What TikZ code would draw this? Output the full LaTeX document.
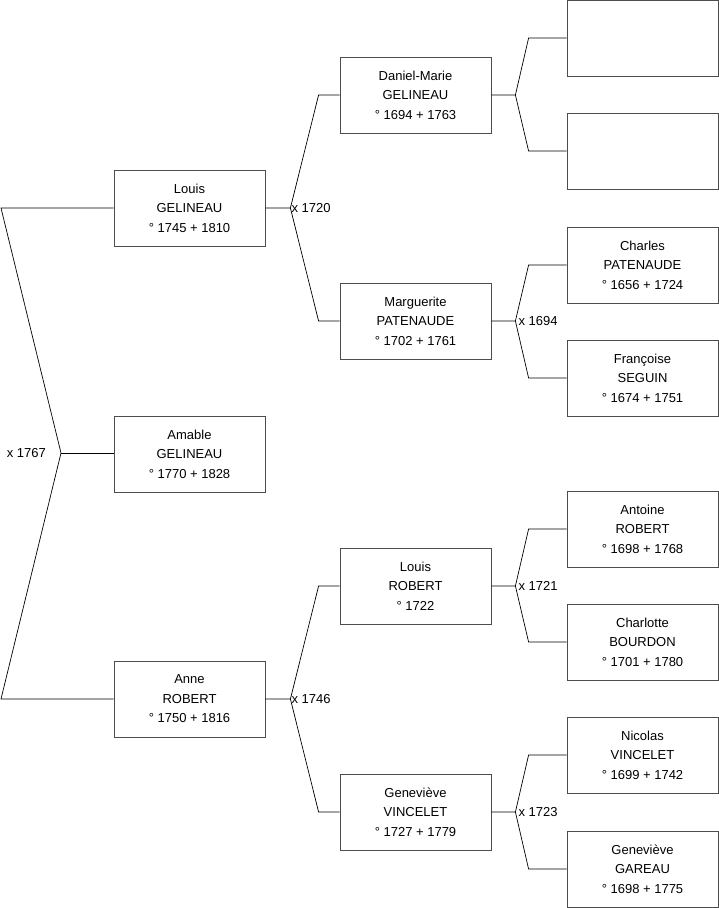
\documentclass[tikz,border=0pt]{standalone}
\usepackage{fontspec}
\setmainfont{Liberation Sans}
\usetikzlibrary{positioning}

\begin{document}
\begin{tikzpicture}[x=1pt,y=-1pt,font=\fontsize{13}{19.5}\selectfont,node distance=2pt,
  pers/.style={draw=black!70,line width=0.8pt,minimum width=151pt,minimum height=76pt,align=center,inner sep=0pt},
  lnk/.style={line width=0.7pt},
  wed/.style={inner sep=1pt}]
  \useasboundingbox (0,0) rectangle (719,908);
  % generation 1
  \node[pers] (louis) at (189.5,208) {Louis\\GELINEAU\\° 1745 + 1810};
  \node[pers] (amable) at (189.5,454) {Amable\\GELINEAU\\° 1770 + 1828};
  \node[pers] (anne) at (189.5,699) {Anne\\ROBERT\\° 1750 + 1816};
  % generation 2
  \node[pers] (dm) at (415.5,95) {Daniel-Marie\\GELINEAU\\° 1694 + 1763};
  \node[pers] (marg) at (415.5,321) {Marguerite\\PATENAUDE\\° 1702 + 1761};
  \node[pers] (lrob) at (415.5,586) {Louis\\ROBERT\\° 1722};
  \node[pers] (gvin) at (415.5,812) {Geneviève\\VINCELET\\° 1727 + 1779};
  % generation 3
  \node[pers] (e1) at (642.5,38) {};
  \node[pers] (e2) at (642.5,151) {};
  \node[pers] (charles) at (642.5,265) {Charles\\PATENAUDE\\° 1656 + 1724};
  \node[pers] (francoise) at (642.5,378) {Françoise\\SEGUIN\\° 1674 + 1751};
  \node[pers] (antoine) at (642.5,529) {Antoine\\ROBERT\\° 1698 + 1768};
  \node[pers] (charlotte) at (642.5,642) {Charlotte\\BOURDON\\° 1701 + 1780};
  \node[pers] (nicolas) at (642.5,755) {Nicolas\\VINCELET\\° 1699 + 1742};
  \node[pers] (ggar) at (642.5,869) {Geneviève\\GAREAU\\° 1698 + 1775};

  % root couple
  \coordinate (rtop) at (1,208);
  \coordinate (rbot) at (1,699);
  \coordinate (rj) at (61,453);
  \draw[lnk] (louis.west) -- (rtop) -- (rj) -- (rbot) -- (anne.west);
  \draw[lnk] (rj) -- (rj -| amable.west);
  \node[wed,left=14pt of rj] (m1767) {x 1767};

  % parents of generation 1
  \foreach \p/\a/\b in {louis/dm/marg, anne/lrob/gvin} {
    \draw[lnk] (\p.east) -- ++(25,0) coordinate (j-\p) -- ([xshift=-21pt]\a.west) -- (\a.west);
    \draw[lnk] (j-\p) -- ([xshift=-21pt]\b.west) -- (\b.west);
  }
  \node[wed,right=0pt of j-louis] (m1720) {x 1720};
  \node[wed,right=0pt of j-anne] (m1746) {x 1746};

  % parents of generation 2
  \foreach \p/\a/\b in {dm/e1/e2, marg/charles/francoise, lrob/antoine/charlotte, gvin/nicolas/ggar} {
    \draw[lnk] (\p.east) -- ++(24,0) coordinate (j-\p) -- ([xshift=-38pt]\a.west) -- (\a.west);
    \draw[lnk] (j-\p) -- ([xshift=-38pt]\b.west) -- (\b.west);
  }
  \node[wed,right=of j-marg] (m1694) {x 1694};
  \node[wed,right=of j-lrob] (m1721) {x 1721};
  \node[wed,right=of j-gvin] (m1723) {x 1723};
\end{tikzpicture}
\end{document}
